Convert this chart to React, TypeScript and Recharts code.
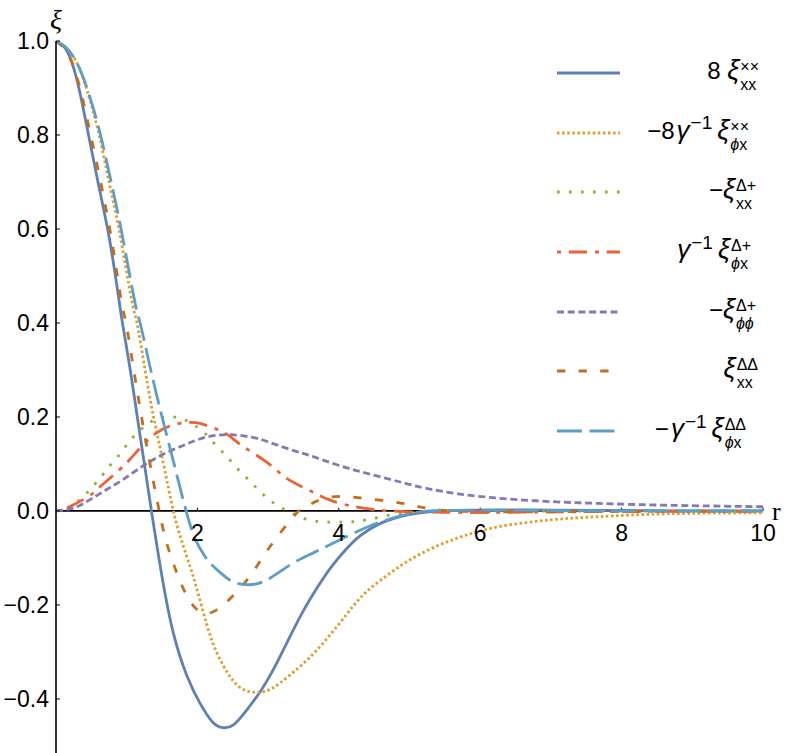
import React from 'react';
import { LineChart, Line, XAxis, YAxis, ReferenceLine, Legend } from 'recharts';

type P = [number, number];

// r, value pairs
const xiXXcross: P[] = [[0,1.0],[0.15,0.98],[0.3,0.915],[0.46,0.8],[0.6,0.695],[0.73,0.6],[0.82,0.52],[0.89,0.45],[0.94,0.4],[1.05,0.3],[1.15,0.2],[1.25,0.1],[1.35,0.0],[1.5,-0.14],[1.66,-0.26],[1.85,-0.35],[2.04,-0.41],[2.22,-0.45],[2.36,-0.461],[2.51,-0.455],[2.7,-0.423],[2.89,-0.384],[3.1,-0.33],[3.3,-0.27],[3.5,-0.212],[3.7,-0.162],[3.9,-0.118],[4.1,-0.082],[4.3,-0.053],[4.58,-0.027],[4.87,-0.012],[5.1,-0.005],[5.5,0.0],[6,0.002],[7,0.002],[8,0.001],[9,0],[10,0]];
const xiPhiXcross: P[] = [[0,1.0],[0.15,0.985],[0.31,0.949],[0.45,0.89],[0.61,0.8],[0.75,0.7],[0.89,0.6],[1.07,0.449],[1.146,0.4],[1.26,0.3],[1.38,0.2],[1.52,0.1],[1.66,0.0],[1.78,-0.065],[1.9,-0.12],[1.99,-0.165],[2.13,-0.24],[2.27,-0.3],[2.46,-0.352],[2.65,-0.38],[2.85,-0.386],[3.05,-0.378],[3.31,-0.349],[3.69,-0.296],[4.11,-0.22],[4.39,-0.172],[4.72,-0.133],[5.05,-0.1],[5.43,-0.072],[5.81,-0.051],[6.28,-0.033],[6.99,-0.019],[7.69,-0.012],[8.64,-0.006],[10,-0.004]];
const xiXXdp: P[] = [[0,0],[0.19,0.008],[0.38,0.03],[0.52,0.052],[0.66,0.077],[0.78,0.1],[0.92,0.124],[1.05,0.15],[1.22,0.176],[1.37,0.192],[1.56,0.2],[1.77,0.197],[1.95,0.183],[2.11,0.165],[2.26,0.14],[2.41,0.117],[2.55,0.093],[2.7,0.07],[2.85,0.047],[3.0,0.026],[3.17,0.008],[3.36,-0.006],[3.55,-0.018],[3.76,-0.023],[3.97,-0.024],[4.18,-0.023],[4.39,-0.019],[4.72,-0.009],[5.05,-0.003],[5.5,0],[6.5,0],[8,0],[10,0]];
const xiPhiXdp: P[] = [[0,0],[0.19,0.009],[0.47,0.032],[0.61,0.05],[0.9,0.088],[1.13,0.124],[1.41,0.165],[1.71,0.185],[1.98,0.188],[2.2,0.178],[2.4,0.165],[2.63,0.139],[2.98,0.104],[3.26,0.07],[3.57,0.045],[3.88,0.023],[4.23,0.009],[4.54,0.002],[4.87,-0.001],[5.5,-0.003],[6.2,-0.003],[7,-0.002],[8.5,-0.001],[10,-0.001]];
const xiPhiPhidp: P[] = [[0,0],[0.24,0.006],[0.47,0.023],[0.71,0.045],[0.94,0.066],[1.18,0.091],[1.41,0.112],[1.65,0.13],[1.89,0.145],[2.12,0.157],[2.36,0.162],[2.59,0.161],[2.83,0.155],[2.98,0.148],[3.31,0.131],[3.59,0.118],[3.92,0.101],[4.25,0.086],[4.58,0.073],[4.91,0.06],[5.24,0.048],[5.71,0.036],[6.28,0.027],[6.99,0.02],[7.69,0.016],[8.4,0.013],[9.1,0.011],[10,0.009]];
const xiXXdd: P[] = [[0,1.0],[0.24,0.949],[0.49,0.8],[0.76,0.6],[0.92,0.449],[0.99,0.4],[1.1,0.3],[1.21,0.2],[1.33,0.1],[1.46,0.0],[1.56,-0.065],[1.68,-0.12],[1.8,-0.165],[1.95,-0.203],[2.12,-0.218],[2.28,-0.21],[2.44,-0.19],[2.7,-0.147],[2.93,-0.097],[3.17,-0.047],[3.4,-0.005],[3.5,0.006],[3.8,0.027],[4.18,0.03],[4.58,0.023],[4.95,0.015],[5.33,0.004],[5.8,-0.001],[6.5,-0.002],[8,-0.001],[10,0]];
const xiPhiXdd: P[] = [[0,1.0],[0.15,0.985],[0.31,0.949],[0.47,0.885],[0.63,0.8],[0.78,0.7],[0.92,0.6],[1.11,0.449],[1.19,0.4],[1.34,0.3],[1.5,0.2],[1.67,0.1],[1.84,0.0],[1.97,-0.06],[2.1,-0.095],[2.22,-0.117],[2.37,-0.137],[2.51,-0.151],[2.72,-0.157],[2.98,-0.147],[3.31,-0.115],[3.6,-0.092],[3.91,-0.069],[4.44,-0.032],[4.91,-0.009],[5.3,0.0],[6,0.002],[7,0.001],[8.5,0],[10,0]];

const xTicks = [2, 4, 6, 8, 10];
const yTicks = [-0.4, -0.2, 0, 0.2, 0.4, 0.6, 0.8, 1.0];

const FONT = '"Liberation Sans", Arial, sans-serif';

const toRows = (pts: P[]) => pts.map(([r, v]) => ({ r, v }));

const Stack = ({ sup, sub }: { sup: React.ReactNode; sub: React.ReactNode }) => (
  <span style={{ display: 'inline-flex', flexDirection: 'column', verticalAlign: 'middle', fontSize: 16, lineHeight: '18px', marginLeft: 1, textAlign: 'left', position: 'relative', top: 3 }}>
    <span>{sup}</span>
    <span>{sub}</span>
  </span>
);
const Xi = () => <i style={{ fontSize: 27 }}>ξ</i>;
const Inv = () => <sup style={{ fontSize: 19, verticalAlign: '0.5em', marginLeft: 1, marginRight: 5, lineHeight: 0 }}>−1</sup>;
const Gam = () => <i style={{ fontSize: 26, marginLeft: 2 }}>γ</i>;
const PhiX = () => <><i>ϕ</i>x</>;

const series = [
  { key: 's1', data: xiXXcross, color: '#5E81B5', dash: undefined as string | undefined, pad: 0, label: <>8&nbsp;<Xi /><Stack sup="××" sub="xx" /></> },
  { key: 's2', data: xiPhiXcross, color: '#E19C24', dash: '2.5 2.6', pad: 10, label: <>−8<Gam /><Inv /><Xi /><Stack sup="××" sub={<PhiX />} /></> },
  { key: 's3', data: xiXXdp, color: '#8FB032', dash: '2.7 9.3', pad: 3, label: <>−<Xi /><Stack sup="Δ+" sub="xx" /></> },
  { key: 's4', data: xiPhiXdp, color: '#EB6235', dash: '4 7.7 18.3 8', pad: 8, label: <><Gam /><Inv /><Xi /><Stack sup="Δ+" sub={<PhiX />} /></> },
  { key: 's5', data: xiPhiPhidp, color: '#8778B3', dash: '7 3.7', pad: 3, label: <>−<Xi /><Stack sup="Δ+" sub={<i>ϕϕ</i>} /></> },
  { key: 's6', data: xiXXdd, color: '#C56E1A', dash: '8.3 13.3', pad: 1, label: <><Xi /><Stack sup="ΔΔ" sub="xx" /></> },
  { key: 's7', data: xiPhiXdd, color: '#5D9EC7', dash: '25 7.5', pad: 13, label: <>−<Gam /><Inv /><Xi /><Stack sup="ΔΔ" sub={<PhiX />} /></> },
];

const fmt = (v: number) => {
  const s = Math.abs(v).toFixed(1);
  return v < -1e-9 ? '−' + s : s;
};

const YTick = (props: any) => {
  const { x, y, payload } = props;
  return (
    <g>
      <line x1={x + 7} x2={x + 11} y1={y} y2={y} stroke="#000" strokeWidth={1} />
      <text x={x} y={y} dy="0.36em" textAnchor="end" fontFamily={FONT} fontSize={23} fill="#000">
        {fmt(payload.value)}
      </text>
    </g>
  );
};

const renderLegend = () => (
  <div style={{ fontFamily: FONT, fontSize: 24, color: '#000' }}>
    {series.map((s) => (
      <div key={s.key} style={{ display: 'flex', alignItems: 'center', height: 59.7 }}>
        <svg width={70} height={10} style={{ flex: 'none' }}>
          <line x1={5} y1={5} x2={68} y2={5} stroke={s.color} strokeWidth={2.8} strokeDasharray={s.dash} />
        </svg>
        <div style={{ flex: 1, textAlign: 'right', paddingRight: s.pad, whiteSpace: 'nowrap', lineHeight: '30px' }}>{s.label}</div>
      </div>
    ))}
  </div>
);

const XiLabel = (props: any) => {
  const vb = props.viewBox || { x: 0, y: 41, width: 56 };
  return (
    <text x={vb.x + vb.width} y={vb.y - 12} textAnchor="middle" fontFamily='"Liberation Serif", serif' fontStyle="italic" fontSize={28} fill="#000">
      ξ
    </text>
  );
};

export default function App() {
  return (
    <div style={{ position: 'absolute', left: 0, top: 0, width: 789, height: 753, background: '#fff' }}>
      <LineChart width={789} height={753} margin={{ top: 41, right: 26, bottom: 0, left: 0 }}>
        <XAxis type="number" dataKey="r" domain={[0, 10]} allowDataOverflow hide />
        <YAxis
          type="number"
          domain={[-0.515, 1]}
          allowDataOverflow
          ticks={yTicks}
          width={56}
          tickSize={0}
          tickMargin={7}
          tick={<YTick />}
          axisLine={{ stroke: '#000', strokeWidth: 1.6 }}
          tickLine={false}
          label={<XiLabel />}
        />
        <ReferenceLine
          y={0}
          stroke="#000"
          strokeWidth={1.8}
          label={{ value: 'r', position: 'right', offset: 9, fontFamily: '"Liberation Serif", serif', fontSize: 26, fill: '#000' }}
        />
        {xTicks.map((t) => (
          <ReferenceLine
            key={t}
            segment={[{ x: t, y: 0 }, { x: t, y: 0.007 }]}
            stroke="#000"
            strokeWidth={1}
            label={{ value: String(t), position: 'bottom', offset: 14, fontFamily: FONT, fontSize: 23, fill: '#000' }}
          />
        ))}
        {series.map((s) => (
          <Line
            key={s.key}
            data={toRows(s.data)}
            dataKey="v"
            name={s.key}
            type="natural"
            stroke={s.color}
            strokeWidth={2.8}
            strokeDasharray={s.dash}
            dot={false}
            activeDot={false}
            isAnimationActive={false}
          />
        ))}
        <Legend
          layout="vertical"
          align="center"
          verticalAlign="middle"
          content={renderLegend}
          wrapperStyle={{ left: 552, top: 43, width: 207 }}
        />
      </LineChart>
    </div>
  );
}
